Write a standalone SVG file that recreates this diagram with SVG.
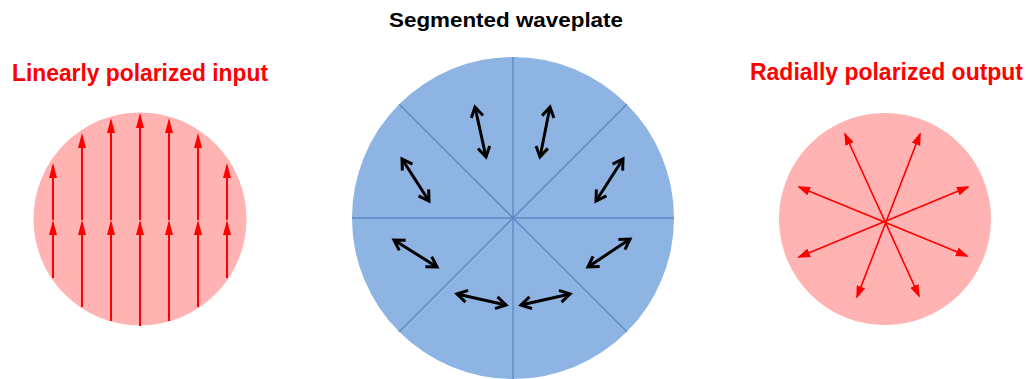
<svg xmlns="http://www.w3.org/2000/svg" width="1031" height="379" viewBox="0 0 1031 379">
<style>
.lbl{font-family:"Liberation Sans",Arial,sans-serif;font-weight:bold;font-size:23px;fill:#FF0000}
.ttl{font-family:"Liberation Sans",Arial,sans-serif;font-weight:bold;font-size:21px;fill:#000}
.pink{fill:#FFB3B3}
.blue{fill:#8EB4E3}
.div{stroke:#5B87C2;stroke-width:1.3;fill:none}
.rl{stroke:#FF0000;stroke-width:2;fill:none;marker-end:url(#rh)}
.rr{stroke:#FF0000;stroke-width:1.6;fill:none;marker-start:url(#rh2);marker-end:url(#rh2)}
.bk{stroke:#000;stroke-width:3;fill:none;marker-start:url(#bh);marker-end:url(#bh)}
</style>
<defs>
<marker id="rh" markerUnits="userSpaceOnUse" viewBox="0 0 15 8" markerWidth="15" markerHeight="8" refX="12" refY="4" orient="auto">
<path d="M0,0 L15,4 L0,8 Z" fill="#FF0000"/>
</marker>
<marker id="rh2" markerUnits="userSpaceOnUse" viewBox="0 0 13 9" markerWidth="13" markerHeight="9" refX="11" refY="4.5" orient="auto-start-reverse">
<path d="M0,0 L13,4.5 L0,9 Z" fill="#FF0000"/>
</marker>
<marker id="bh" markerUnits="userSpaceOnUse" viewBox="-14 -8 16 16" markerWidth="16" markerHeight="16" refX="0" refY="0" orient="auto-start-reverse" overflow="visible">
<path d="M-10,-6 L0,0 L-10,6" stroke="#000" stroke-width="3" fill="none" stroke-linejoin="miter"/>
</marker>
</defs>
<rect width="1031" height="379" fill="#fff"/>

<g id="input">
<text class="lbl" x="12" y="81" textLength="256" lengthAdjust="spacingAndGlyphs">Linearly polarized input</text>
<circle class="pink" cx="140" cy="219" r="106.5"/>
</g>

<g id="waveplate">
<text class="ttl" x="389" y="27" textLength="234" lengthAdjust="spacingAndGlyphs">Segmented waveplate</text>
<circle class="blue" cx="513" cy="218" r="161"/>
<line class="div" x1="513" y1="57" x2="513" y2="379"/>
<line class="div" x1="352" y1="218" x2="674" y2="218"/>
<line class="div" x1="399.2" y1="104.2" x2="626.8" y2="331.8"/>
<line class="div" x1="626.8" y1="104.2" x2="399.2" y2="331.8"/>
</g>

<g id="output">
<text class="lbl" x="750" y="80" textLength="273" lengthAdjust="spacingAndGlyphs">Radially polarized output</text>
<circle class="pink" cx="885" cy="219" r="106"/>
</g>

<g id="connectors">
<line class="rl" x1="53" y1="278" x2="53" y2="223"/>
<line class="rl" x1="53" y1="220" x2="53" y2="166"/>
<line class="rl" x1="82" y1="307" x2="82" y2="223"/>
<line class="rl" x1="82" y1="220" x2="82" y2="136"/>
<line class="rl" x1="111" y1="321" x2="111" y2="223"/>
<line class="rl" x1="111" y1="220" x2="111" y2="121"/>
<line class="rl" x1="140" y1="326" x2="140" y2="223"/>
<line class="rl" x1="140" y1="220" x2="140" y2="116"/>
<line class="rl" x1="169" y1="321" x2="169" y2="223"/>
<line class="rl" x1="169" y1="220" x2="169" y2="121"/>
<line class="rl" x1="198" y1="307" x2="198" y2="223"/>
<line class="rl" x1="198" y1="220" x2="198" y2="136"/>
<line class="rl" x1="227" y1="278" x2="227" y2="223"/>
<line class="rl" x1="227" y1="220" x2="227" y2="166"/>

<line class="bk" x1="475" y1="107" x2="486" y2="157"/>
<line class="bk" x1="550" y1="107" x2="540" y2="157"/>
<line class="bk" x1="402" y1="159" x2="429" y2="201"/>
<line class="bk" x1="623" y1="159" x2="596" y2="201"/>
<line class="bk" x1="394" y1="240" x2="437" y2="267"/>
<line class="bk" x1="630" y1="239" x2="588" y2="267"/>
<line class="bk" x1="457" y1="294" x2="506" y2="305"/>
<line class="bk" x1="570" y1="294" x2="521" y2="305"/>

<line class="rr" x1="845" y1="134" x2="919" y2="296"/>
<line class="rr" x1="920" y1="134" x2="857" y2="297"/>
<line class="rr" x1="799" y1="187" x2="967" y2="256"/>
<line class="rr" x1="968" y1="187" x2="799" y2="257"/>
</g>
</svg>
